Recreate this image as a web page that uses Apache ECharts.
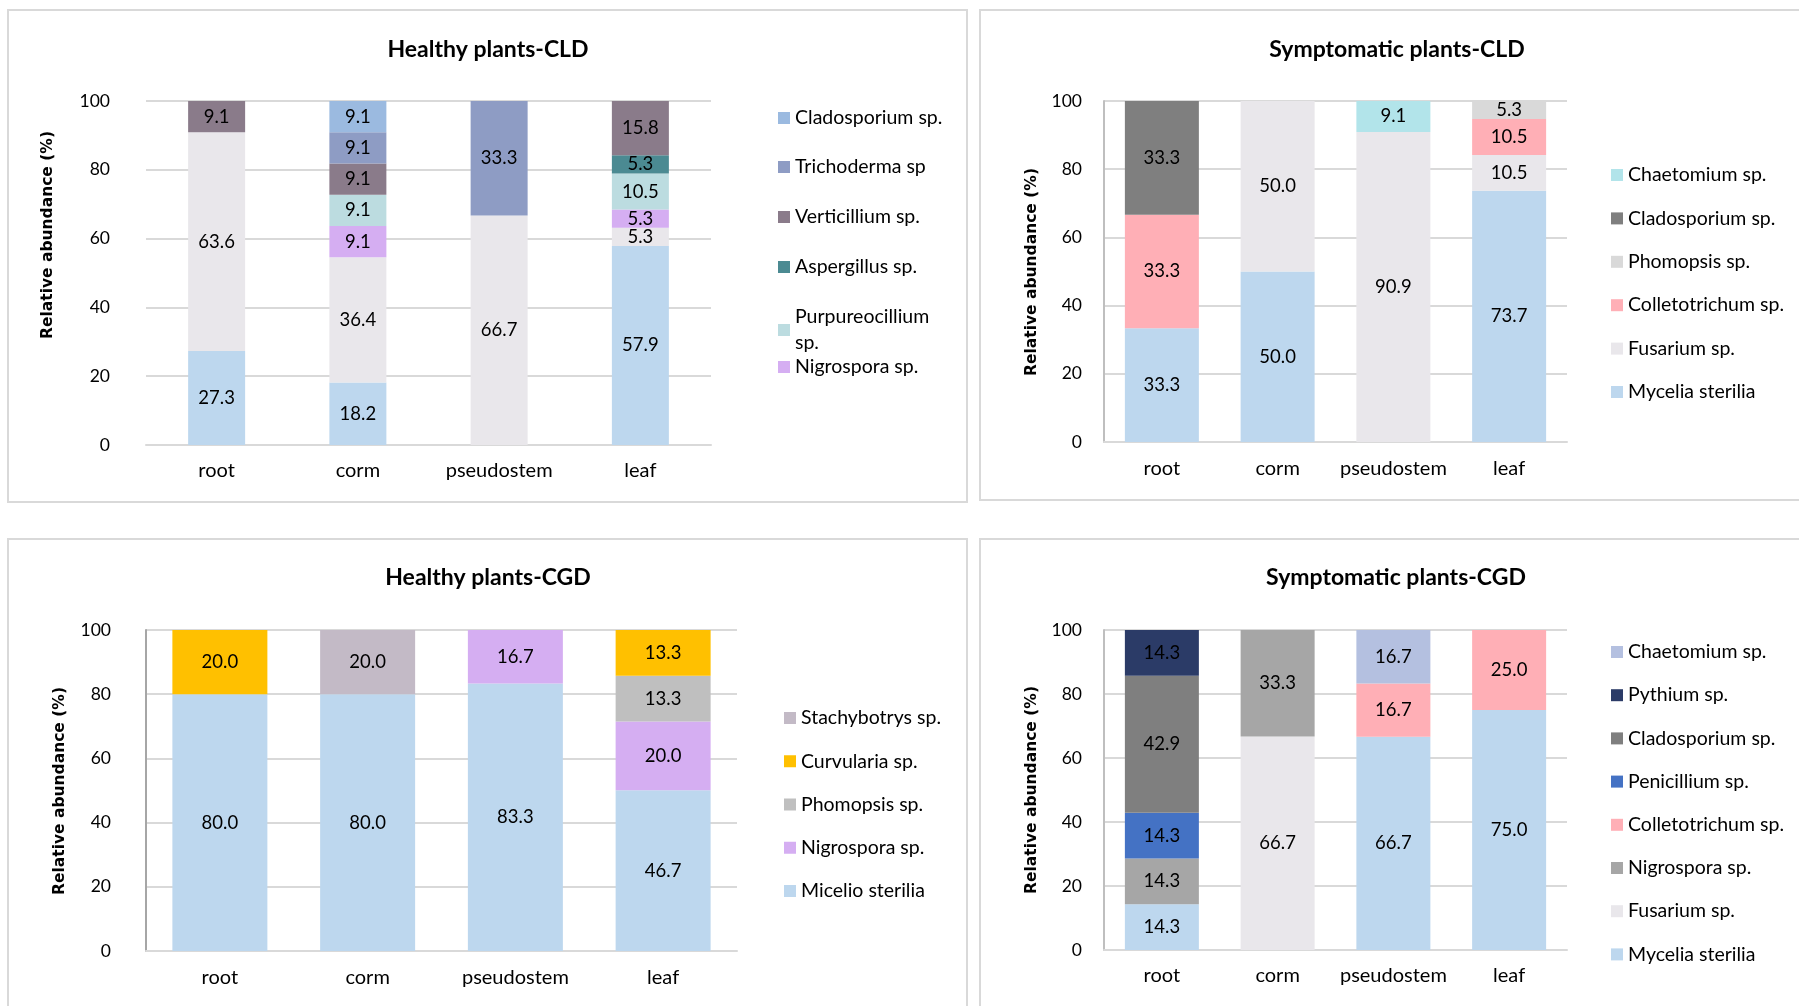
<!DOCTYPE html>
<html>
<head>
<meta charset="utf-8">
<script src="https://cdn.jsdelivr.net/npm/echarts/dist/echarts.min.js"></script>
<style>
html,body{margin:0;padding:0;background:#fff;width:1799px;height:1006px;overflow:hidden}
.c{position:absolute;left:0;top:0;width:1799px;height:1006px}
</style>
</head>
<body>
<div id="p1" class="c"></div>
<div id="p2" class="c"></div>
<div id="p3" class="c"></div>
<div id="p4" class="c"></div>
<script>
// ---------- DATA ----------
const categories = ['root', 'corm', 'pseudostem', 'leaf'];
const yTicks = [0, 20, 40, 60, 80, 100];

// Healthy plants-CLD (bottom -> top)
const h1Mycelia        = [27.3, 18.2, null, 57.9];
const h1Fusarium       = [63.6, 36.4, 66.7, 5.3];
const h1Nigrospora     = [null, 9.1, null, 5.3];
const h1Purpureocillium= [null, 9.1, null, 10.5];
const h1Aspergillus    = [null, null, null, 5.3];
const h1Verticillium   = [9.1, 9.1, null, 15.8];
const h1Trichoderma    = [null, 9.1, 33.3, null];
const h1Cladosporium   = [null, 9.1, null, null];

// Symptomatic plants-CLD
const s1Mycelia        = [33.3, 50.0, null, 73.7];
const s1Fusarium       = [null, 50.0, 90.9, 10.5];
const s1Colletotrichum = [33.3, null, null, 10.5];
const s1Phomopsis      = [null, null, null, 5.3];
const s1Cladosporium   = [33.3, null, null, null];
const s1Chaetomium     = [null, null, 9.1, null];

// Healthy plants-CGD
const h2Micelio        = [80.0, 80.0, 83.3, 46.7];
const h2Nigrospora     = [null, null, 16.7, 20.0];
const h2Phomopsis      = [null, null, null, 13.3];
const h2Curvularia     = [20.0, null, null, 13.3];
const h2Stachybotrys   = [null, 20.0, null, null];

// Symptomatic plants-CGD
const s2Mycelia        = [14.3, null, 66.7, 75.0];
const s2Fusarium       = [null, 66.7, null, null];
const s2Nigrospora     = [14.3, 33.3, null, null];
const s2Colletotrichum = [null, null, 16.7, 25.0];
const s2Penicillium    = [14.3, null, null, null];
const s2Cladosporium   = [42.9, null, null, null];
const s2Pythium        = [14.3, null, null, null];
const s2Chaetomium     = [null, null, 16.7, null];

// ---------- STYLE ----------
const FONT = 'Lato, "Open Sans", sans-serif';
const C = {
  mycelia:'#BDD7EE', fusarium:'#E9E7EB', nigro:'#D5AEF2', purpur:'#BCDCE0', asperg:'#4B8A92',
  vert:'#8A7B8A', trich:'#8E9CC4', clado1:'#9BBAE0', colleto:'#FFAFB6', phomo1:'#D9D9D9',
  darkgray:'#7F7F7F', chaet1:'#B2E4EA', phomo2:'#BFBFBF', curv:'#FFC000', stachy:'#C3BAC6',
  nigro2:'#A6A6A6', penic:'#4472C4', pyth:'#2B3B67', chaet2:'#B4C0E0'
};

function build(id, p) {
  const chart = echarts.init(document.getElementById(id), null, {renderer: 'canvas'});
  // 100% stacked columns: each column is scaled to its total, labels keep the raw values
  const totals = categories.map((_, i) => p.series.reduce((a, s) => a + (s.data[i] || 0), 0));
  const series = p.series.map(s => ({
    name: s.name, type: 'bar', stack: 'total', barWidth: p.barWidth,
    data: s.data.map((v, i) => (v == null ? null : {value: v / totals[i] * 100, raw: v})),
    itemStyle: {color: s.color},
    label: {show: true, position: 'inside', color: '#000', fontSize: 18.5, fontFamily: FONT,
      formatter: q => (q.data && q.data.raw != null ? Number(q.data.raw).toFixed(1) : '')},
    emphasis: {disabled: true}
  }));
  const graphic = [
    {type: 'rect', shape: p.border, style: {fill: 'none', stroke: '#D9D9D9', lineWidth: 2}, silent: true, z: -10},
    {type: 'text', x: p.title[0], y: p.title[1],
      style: {text: p.title[2], fontSize: 23, fontWeight: 'bold', fontFamily: FONT, fill: '#000',
        align: 'center', verticalAlign: 'middle', textAlign: 'center', textVerticalAlign: 'middle'}},
    {type: 'text', x: p.yName[0], y: p.yName[1], rotation: Math.PI / 2,
      style: {text: 'Relative abundance (%)', fontSize: 15.5, fontWeight: 'bold', fontFamily: '"DejaVu Sans", sans-serif', fill: '#000',
        align: 'center', verticalAlign: 'middle', textAlign: 'center', textVerticalAlign: 'middle'}}
  ];
  chart.setOption({
    animation: false,
    grid: {left: p.grid[0], top: p.grid[1], width: p.grid[2], height: p.grid[3], containLabel: false, outerBoundsMode: 'none'},
    xAxis: {type: 'category', data: categories, axisTick: {show: false},
      axisLine: {lineStyle: {color: '#D9D9D9', width: 2}},
      axisLabel: {interval: 0, margin: p.xMargin, fontSize: 20, color: '#000', fontFamily: FONT}},
    yAxis: {type: 'value', min: yTicks[0], max: yTicks[yTicks.length - 1], interval: yTicks[1] - yTicks[0],
      axisLine: {show: !!p.yLine, lineStyle: {color: p.yLine || '#D9D9D9', width: 2}},
      axisTick: {show: false},
      splitLine: {lineStyle: {color: '#D9D9D9', width: 2}},
      axisLabel: {margin: p.yMargin, fontSize: 17.5, color: '#000', fontFamily: FONT}},
    legend: p.legends,
    graphic: graphic,
    series: series
  });
}

function legendBlock(left, top, gap, names) {
  return [{
    orient: 'vertical', left: left, top: top, padding: 0, itemGap: gap,
    itemWidth: 12, itemHeight: 12, icon: 'rect', selectedMode: false,
    textStyle: {fontSize: 19.5, lineHeight: 20, color: '#000', fontFamily: FONT},
    data: names
  }];
}

// Panel 1 legend: one component per item (Purpureocillium wraps to two lines)
const p1Names = ['Cladosporium sp.', 'Trichoderma sp', 'Verticillium sp.', 'Aspergillus sp.', 'Purpureocillium sp.', 'Nigrospora sp.'];
const p1Centers = [118, 167, 217, 267, 317, 367];
const p1Legends = p1Names.map((n, i) => {
  const wrap = n === 'Purpureocillium sp.';
  return {
    orient: 'vertical', left: 778, top: wrap ? p1Centers[i] - 13 : p1Centers[i] - 10, padding: 0,
    itemWidth: 12, itemHeight: 12, icon: 'rect', selectedMode: false,
    textStyle: {fontSize: 19.5, lineHeight: wrap ? 26 : 20, color: '#000', fontFamily: FONT},
    formatter: wrap ? (nm => nm.replace(' sp.', '\nsp.')) : '{name}',
    data: [n]
  };
});

build('p1', {
  border: {x: 8, y: 10, width: 959, height: 492},
  title: [488, 50, 'Healthy plants-CLD'], yName: [48, 235],
  grid: [146, 101, 565, 344], barWidth: 57, xMargin: 16, yMargin: 36, yLine: null,
  legends: p1Legends,
  series: [
    {name: 'Mycelia sterilia', data: h1Mycelia, color: C.mycelia},
    {name: 'Fusarium sp.', data: h1Fusarium, color: C.fusarium},
    {name: 'Nigrospora sp.', data: h1Nigrospora, color: C.nigro},
    {name: 'Purpureocillium sp.', data: h1Purpureocillium, color: C.purpur},
    {name: 'Aspergillus sp.', data: h1Aspergillus, color: C.asperg},
    {name: 'Verticillium sp.', data: h1Verticillium, color: C.vert},
    {name: 'Trichoderma sp', data: h1Trichoderma, color: C.trich},
    {name: 'Cladosporium sp.', data: h1Cladosporium, color: C.clado1}
  ]
});

build('p2', {
  border: {x: 980, y: 10, width: 840, height: 490},
  title: [1397, 50, 'Symptomatic plants-CLD'], yName: [1032, 272],
  grid: [1104, 101, 463, 341], barWidth: 74, xMargin: 17, yMargin: 22, yLine: '#BFBFBF',
  legends: legendBlock(1611, 165, 23.4, ['Chaetomium sp.', 'Cladosporium sp.', 'Phomopsis sp.', 'Colletotrichum sp.', 'Fusarium sp.', 'Mycelia sterilia']),
  series: [
    {name: 'Mycelia sterilia', data: s1Mycelia, color: C.mycelia},
    {name: 'Fusarium sp.', data: s1Fusarium, color: C.fusarium},
    {name: 'Colletotrichum sp.', data: s1Colletotrichum, color: C.colleto},
    {name: 'Phomopsis sp.', data: s1Phomopsis, color: C.phomo1},
    {name: 'Cladosporium sp.', data: s1Cladosporium, color: C.darkgray},
    {name: 'Chaetomium sp.', data: s1Chaetomium, color: C.chaet1}
  ]
});

build('p3', {
  border: {x: 8, y: 539, width: 959, height: 500},
  title: [488, 578, 'Healthy plants-CGD'], yName: [60, 791],
  grid: [146, 630, 591, 321], barWidth: 95, xMargin: 17, yMargin: 35, yLine: '#A6A6A6',
  legends: legendBlock(784, 708, 23.25, ['Stachybotrys sp.', 'Curvularia sp.', 'Phomopsis sp.', 'Nigrospora sp.', 'Micelio sterilia']),
  series: [
    {name: 'Micelio sterilia', data: h2Micelio, color: C.mycelia},
    {name: 'Nigrospora sp.', data: h2Nigrospora, color: C.nigro},
    {name: 'Phomopsis sp.', data: h2Phomopsis, color: C.phomo2},
    {name: 'Curvularia sp.', data: h2Curvularia, color: C.curv},
    {name: 'Stachybotrys sp.', data: h2Stachybotrys, color: C.stachy}
  ]
});

build('p4', {
  border: {x: 980, y: 539, width: 840, height: 500},
  title: [1396, 578, 'Symptomatic plants-CGD'], yName: [1032, 790],
  grid: [1104, 630, 463, 320], barWidth: 74, xMargin: 16, yMargin: 22, yLine: '#BFBFBF',
  legends: legendBlock(1611, 642, 23.2, ['Chaetomium sp.', 'Pythium sp.', 'Cladosporium sp.', 'Penicillium sp.', 'Colletotrichum sp.', 'Nigrospora sp.', 'Fusarium sp.', 'Mycelia sterilia']),
  series: [
    {name: 'Mycelia sterilia', data: s2Mycelia, color: C.mycelia},
    {name: 'Fusarium sp.', data: s2Fusarium, color: C.fusarium},
    {name: 'Nigrospora sp.', data: s2Nigrospora, color: C.nigro2},
    {name: 'Colletotrichum sp.', data: s2Colletotrichum, color: C.colleto},
    {name: 'Penicillium sp.', data: s2Penicillium, color: C.penic},
    {name: 'Cladosporium sp.', data: s2Cladosporium, color: C.darkgray},
    {name: 'Pythium sp.', data: s2Pythium, color: C.pyth},
    {name: 'Chaetomium sp.', data: s2Chaetomium, color: C.chaet2}
  ]
});
</script>
</body>
</html>
